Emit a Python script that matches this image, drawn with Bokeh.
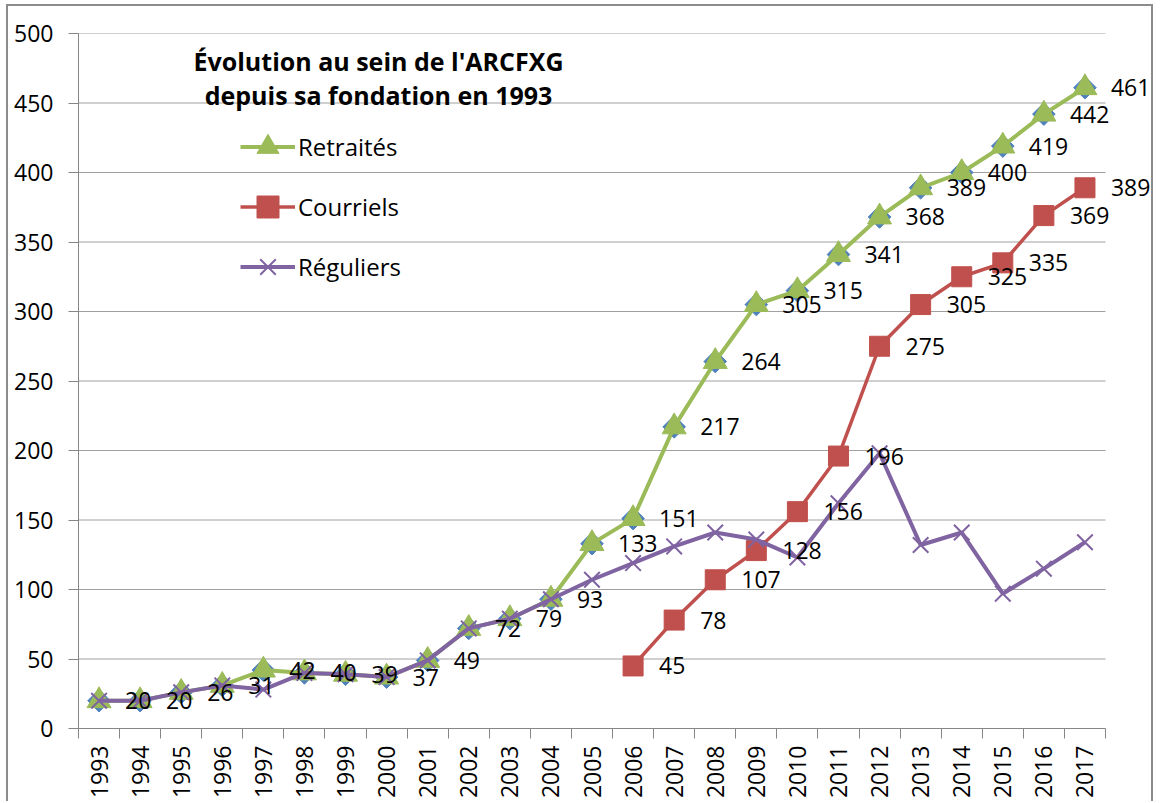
import math
import numpy as np
from bokeh.plotting import figure
from bokeh.models import (Range1d, LinearAxis, FixedTicker, Legend, LegendItem,
                          Label, LabelSet, ColumnDataSource)
from bokeh.core.properties import value
from bokeh.embed import file_html
from bokeh.resources import INLINE

years = ["1993", "1994", "1995", "1996", "1997", "1998", "1999", "2000", "2001",
         "2002", "2003", "2004", "2005", "2006", "2007", "2008", "2009", "2010",
         "2011", "2012", "2013", "2014", "2015", "2016", "2017"]
retraites = [20, 20, 26, 31, 42, 40, 39, 37, 49, 72, 79, 93, 133, 151, 217, 264,
             305, 315, 341, 368, 389, 400, 419, 442, 461]
courriels_years = ["2006", "2007", "2008", "2009", "2010", "2011", "2012", "2013",
                   "2014", "2015", "2016", "2017"]
courriels = [45, 78, 107, 128, 156, 196, 275, 305, 325, 335, 369, 389]
reguliers = [20, 20, 26, 31, 28, 40, 39, 37, 49, 72, 79, 93, 107, 119, 131, 141,
             136, 123, 162, 198, 132, 141, 97, 115, 134]
y_ticks = [0, 50, 100, 150, 200, 250, 300, 350, 400, 450, 500]
title_lines = ["Évolution au sein de l'ARCFXG", "depuis sa fondation en 1993"]

FONT = "Open Sans"
GREEN = "#9bbb59"
RED = "#c0504d"
PURPLE = "#8064a2"
BLUE = "#4f81bd"
GRID = "#a0a0a0"
AXIS = "#868686"

n = len(years)
xpos = np.arange(n) + 0.5
x_of = {y: xpos[i] for i, y in enumerate(years)}
xc = [x_of[y] for y in courriels_years]

# the frame runs a little past the last category so the right-hand data labels fit
p = figure(width=1147, height=797, output_backend="svg", toolbar_location=None,
           x_range=Range1d(0, n * 1075 / 1027), y_range=Range1d(0, 500),
           x_axis_type=None, y_axis_type=None,
           min_border_left=70, min_border_right=2, min_border_top=27,
           min_border_bottom=75)
p.styles = {"border-left": "2px solid #8c8c8c", "border-top": "2px solid #8c8c8c",
            "border-right": "2px solid #8c8c8c", "margin-left": "6px",
            "margin-top": "4px"}
p.outline_line_color = None
p.background_fill_color = "white"
p.border_fill_color = "white"

# horizontal gridlines limited to the category span
p.segment(x0=[0] * len(y_ticks), x1=[n] * len(y_ticks), y0=y_ticks, y1=y_ticks,
          line_color=GRID, line_width=1)

# y axis
yax = LinearAxis(ticker=FixedTicker(ticks=y_ticks))
yax.axis_line_color = AXIS
yax.major_tick_line_color = AXIS
yax.major_tick_out = 10
yax.major_tick_in = 0
yax.minor_tick_line_color = None
yax.major_label_standoff = 15
yax.major_label_text_font = FONT
yax.major_label_text_font_size = "23px"
yax.major_label_text_color = "#000000"
p.add_layout(yax, "left")

# x axis: labels at category centres, ticks at category boundaries
xax = LinearAxis(ticker=FixedTicker(ticks=list(xpos), minor_ticks=list(range(n + 1))))
xax.bounds = (0, n)
xax.major_label_overrides = {float(xpos[i]): years[i] for i in range(n)}
xax.axis_line_color = AXIS
xax.major_tick_line_color = None
xax.major_tick_out = 10
xax.major_tick_in = 0
xax.minor_tick_line_color = AXIS
xax.minor_tick_out = 10
xax.minor_tick_in = 0
xax.major_label_orientation = math.pi / 2
xax.major_label_standoff = 7
xax.major_label_text_font = FONT
xax.major_label_text_font_size = "23px"
xax.major_label_text_color = "#000000"
p.add_layout(xax, "below")

# diamonds under the Retraités markers
p.scatter(xpos, retraites, marker="square", angle=math.pi / 4, size=16,
          fill_color=BLUE, line_color=BLUE)
g_line = p.line(xpos, retraites, line_color=GREEN, line_width=4)
g_mark = p.scatter(xpos, retraites, marker="triangle", size=24, fill_color=GREEN,
                   line_color=GREEN)
r_line = p.line(xc, courriels, line_color=RED, line_width=3.5)
r_mark = p.scatter(xc, courriels, marker="square", size=20, fill_color=RED,
                   line_color=RED)
v_line = p.line(xpos, reguliers, line_color=PURPLE, line_width=4)
v_mark = p.scatter(xpos, reguliers, marker="x", size=22, line_color=PURPLE,
                   line_width=2)

# data labels
src_g = ColumnDataSource(dict(x=xpos, y=retraites, t=[str(v) for v in retraites]))
src_r = ColumnDataSource(dict(x=xc, y=courriels, t=[str(v) for v in courriels]))
for src in (src_g, src_r):
    p.add_layout(LabelSet(x="x", y="y", text="t", source=src, x_offset=26,
                          text_baseline="middle", text_align="left",
                          text_font=value(FONT), text_font_size="23px",
                          text_color="#000000"))

legend = Legend(items=[
    LegendItem(label="Retraités", renderers=[g_line, g_mark]),
    LegendItem(label="Courriels", renderers=[r_line, r_mark]),
    LegendItem(label="Réguliers", renderers=[v_line, v_mark]),
], location=(162, 434), orientation="vertical")
legend.padding = 0
legend.margin = 0
legend.spacing = 5
legend.glyph_width = 55
legend.glyph_height = 55
legend.label_height = 55
legend.label_standoff = 3
legend.label_text_font = FONT
legend.label_text_font_size = "24px"
legend.label_text_color = "#000000"
legend.border_line_color = None
legend.background_fill_alpha = 0
p.add_layout(legend, "center")

for t, yy in zip(title_lines, [668, 634]):
    p.add_layout(Label(x=300, y=yy, x_units="screen", y_units="screen", text=t,
                       text_align="center", text_baseline="middle",
                       text_font=FONT, text_font_style="bold",
                       text_font_size="25px", text_color="#000000"))

open("out.html", "w").write(file_html(p, INLINE))
